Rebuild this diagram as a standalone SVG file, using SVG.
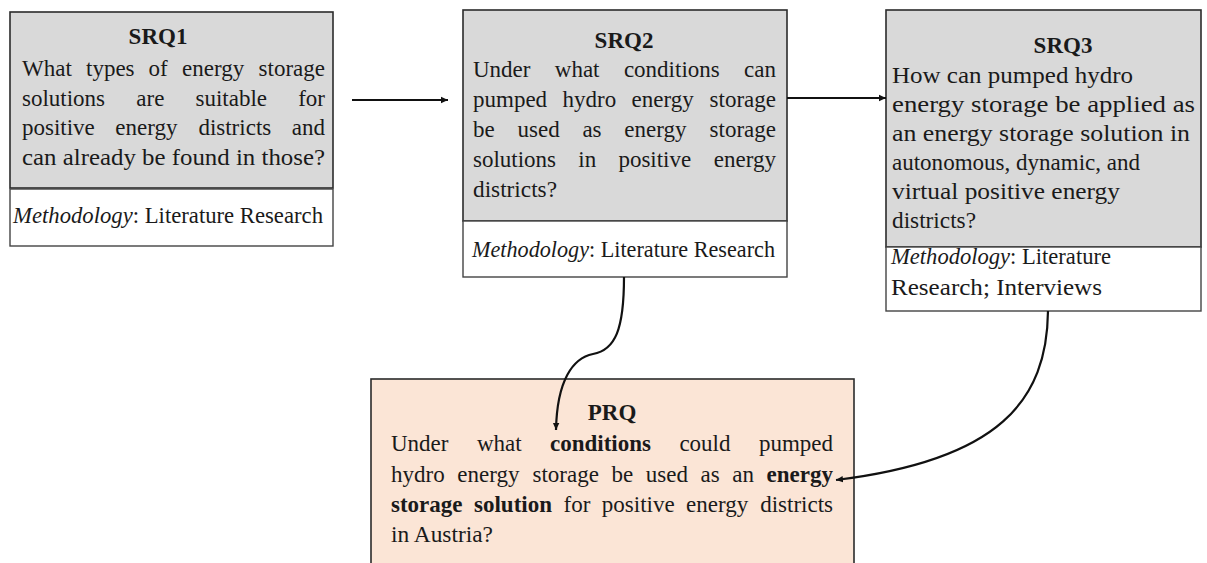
<svg xmlns="http://www.w3.org/2000/svg" width="1207" height="563" viewBox="0 0 1207 563">
  <style>
    text { font-family: "Liberation Serif", "DejaVu Serif", serif; font-size: 23px; fill: #1a1a1a; }
    .title { font-weight: bold; text-anchor: middle; }
    .b { font-weight: bold; }
    .i { font-style: italic; }
    .e { text-anchor: end; }
    .q { fill: #d9d9d9; stroke: #2b2b2b; stroke-width: 1.6; }
    .m { fill: #ffffff; stroke: #444444; stroke-width: 1.4; }
    .p { fill: #fbe5d6; stroke: #2b2b2b; stroke-width: 1.6; }
    .edge { fill: none; stroke: #111111; stroke-width: 2.2; marker-end: url(#head); }
  </style>
  <defs>
    <marker id="head" markerUnits="userSpaceOnUse" markerWidth="8" markerHeight="8" refX="7" refY="4" orient="auto">
      <path d="M0,0.8 L7,4 L0,7.2 Z" fill="#111111"/>
    </marker>
  </defs>
  <rect width="1207" height="563" fill="#ffffff"/>

  <!-- sub-question 1 (justified lines set word by word) -->
  <g id="srq1">
    <rect class="q" x="10" y="12" width="323" height="176"/>
    <rect class="m" x="10" y="189" width="323" height="57"/>
    <text class="title" x="158" y="44">SRQ1</text>
    <text y="76"><tspan x="22">What</tspan><tspan x="86">types</tspan><tspan x="148.6">of</tspan><tspan x="182">energy</tspan><tspan class="e" x="325">storage</tspan></text>
    <text y="106"><tspan x="22">solutions</tspan><tspan x="136.3">are</tspan><tspan x="195.5">suitable</tspan><tspan class="e" x="325">for</tspan></text>
    <text y="135"><tspan x="22">positive</tspan><tspan x="115.3">energy</tspan><tspan x="198.4">districts</tspan><tspan class="e" x="325">and</tspan></text>
    <text x="22" y="165" textLength="303" lengthAdjust="spacingAndGlyphs">can already be found in those?</text>
    <text x="13" y="223" textLength="310" lengthAdjust="spacingAndGlyphs"><tspan class="i">Methodology</tspan>: Literature Research</text>
  </g>

  <!-- sub-question 2 -->
  <g id="srq2">
    <rect class="q" x="463" y="10" width="324" height="211"/>
    <rect class="m" x="463" y="221" width="324" height="56"/>
    <text class="title" x="624" y="48">SRQ2</text>
    <text y="77"><tspan x="473">Under</tspan><tspan x="554.8">what</tspan><tspan x="623.9">conditions</tspan><tspan class="e" x="776">can</tspan></text>
    <text y="107"><tspan x="473">pumped</tspan><tspan x="562.5">hydro</tspan><tspan x="631.6">energy</tspan><tspan class="e" x="776">storage</tspan></text>
    <text y="137"><tspan x="473">be</tspan><tspan x="517.5">used</tspan><tspan x="582.4">as</tspan><tspan x="624.3">energy</tspan><tspan class="e" x="776">storage</tspan></text>
    <text y="167"><tspan x="473">solutions</tspan><tspan x="578.3">in</tspan><tspan x="618.4">positive</tspan><tspan class="e" x="776">energy</tspan></text>
    <text x="473" y="197" textLength="84" lengthAdjust="spacingAndGlyphs">districts?</text>
    <text x="472" y="257" textLength="303" lengthAdjust="spacingAndGlyphs"><tspan class="i">Methodology</tspan>: Literature Research</text>
  </g>

  <!-- sub-question 3 (ragged right) -->
  <g id="srq3">
    <rect class="q" x="886" y="10" width="315" height="237"/>
    <rect class="m" x="886" y="247" width="315" height="64"/>
    <text class="title" x="1063" y="53">SRQ3</text>
    <text x="892" y="83" textLength="241" lengthAdjust="spacingAndGlyphs">How can pumped hydro</text>
    <text x="892" y="112" textLength="303" lengthAdjust="spacingAndGlyphs">energy storage be applied as</text>
    <text x="892" y="141" textLength="298" lengthAdjust="spacingAndGlyphs">an energy storage solution in</text>
    <text x="892" y="170" textLength="248" lengthAdjust="spacingAndGlyphs">autonomous, dynamic, and</text>
    <text x="892" y="199" textLength="228" lengthAdjust="spacingAndGlyphs">virtual positive energy</text>
    <text x="892" y="228" textLength="84" lengthAdjust="spacingAndGlyphs">districts?</text>
    <text x="891" y="264" textLength="220" lengthAdjust="spacingAndGlyphs"><tspan class="i">Methodology</tspan>: Literature</text>
    <text x="891" y="295" textLength="211" lengthAdjust="spacingAndGlyphs">Research; Interviews</text>
  </g>

  <!-- principal research question -->
  <g id="prq">
    <rect class="p" x="371" y="379" width="483" height="200"/>
    <text class="title" x="612" y="420">PRQ</text>
    <text y="451"><tspan x="391">Under</tspan><tspan x="476.9">what</tspan><tspan class="b" x="550">conditions</tspan><tspan x="679.4">could</tspan><tspan class="e" x="833">pumped</tspan></text>
    <text y="482"><tspan x="391">hydro</tspan><tspan x="457.3">energy</tspan><tspan x="532.5">storage</tspan><tspan x="611.5">be</tspan><tspan x="645.8">used</tspan><tspan x="700.6">as</tspan><tspan x="732.3">an</tspan><tspan class="b e" x="833">energy</tspan></text>
    <text y="512"><tspan class="b" x="391">storage</tspan><tspan class="b" x="474">solution</tspan><tspan x="563.5">for</tspan><tspan x="601.8">positive</tspan><tspan x="686.1">energy</tspan><tspan class="e" x="833">districts</tspan></text>
    <text x="391" y="542" textLength="102" lengthAdjust="spacingAndGlyphs">in Austria?</text>
  </g>

  <g id="connectors">
    <path class="edge" d="M352,100 L448,100"/>
    <path class="edge" d="M787,98 L886,98"/>
    <path class="edge" d="M624,277 C624,330 615,350 593,354 C573,358 557,380 556,430"/>
    <path class="edge" d="M1048,311 C1047,400 1000,460 836,480"/>
  </g>
</svg>
